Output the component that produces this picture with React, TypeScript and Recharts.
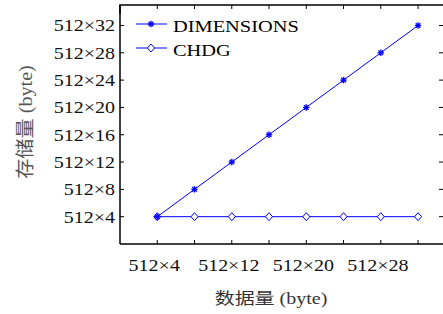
import { LineChart, Line, XAxis, YAxis, Legend, ReferenceLine } from "recharts";

const dataSizes = [4, 8, 12, 16, 20, 24, 28, 32];
const dimensionsValues = [4, 8, 12, 16, 20, 24, 28, 32];
const chdgValues = [4, 4, 4, 4, 4, 4, 4, 4];
const xTicks = [4, 8, 12, 16, 20, 24, 28, 32];
const xLabelTicks = [4, 12, 20, 28];
const yTicks = [4, 8, 12, 16, 20, 24, 28, 32];
const axisDomain = [0, 35];
const axisMax = 35;

const BLUE = "#0000ff";
const FONT = '"Liberation Serif", "Times New Roman", "Noto Sans CJK SC", serif';

const CHART_W = 446;
const PLOT_LEFT = 120;
const PLOT_TOP = 5;

const rows = dataSizes.map((x, i) => ({ x, dim: dimensionsValues[i], chdg: chdgValues[i] }));

const fmt = (v: number) => `512×${v}`;

const SText = ({ x, y, sx = 1.25, size = 16, anchor = "start", fill = "#111", children }: any) => (
  <text
    transform={`translate(${x},${y}) scale(${sx},1)`}
    textAnchor={anchor}
    fontSize={size}
    fontFamily={FONT}
    fill={fill}
  >
    {children}
  </text>
);

const BottomTick = ({ x, y, payload }: any) => (
  <g>
    <line x1={x} y1={y} x2={x} y2={y - 4} stroke="#000" strokeWidth={1} />
    {xLabelTicks.includes(payload.value) && (
      <SText x={x - 3} y={y + 27} anchor="middle">
        {fmt(payload.value)}
      </SText>
    )}
  </g>
);

const LeftTick = ({ x, y, payload }: any) => (
  <g>
    <line x1={x} y1={y} x2={x + 4} y2={y} stroke="#000" strokeWidth={1} />
    <line x1={443} y1={y} x2={439} y2={y} stroke="#000" strokeWidth={1} />
    <SText x={x - 5} y={y + 6} anchor="end">
      {fmt(payload.value)}
    </SText>
  </g>
);

const StarDot = ({ cx, cy, index }: any) => {
  const r = 3.2;
  const d = r * 0.72;
  return (
    <g key={`s${index}`} stroke={BLUE} strokeWidth={1.3}>
      <line x1={cx - r} y1={cy} x2={cx + r} y2={cy} />
      <line x1={cx} y1={cy - r} x2={cx} y2={cy + r} />
      <line x1={cx - d} y1={cy - d} x2={cx + d} y2={cy + d} />
      <line x1={cx - d} y1={cy + d} x2={cx + d} y2={cy - d} />
    </g>
  );
};

const DiamondDot = ({ cx, cy, index }: any) => (
  <polygon
    key={`d${index}`}
    points={`${cx},${cy - 4} ${cx + 3.5},${cy} ${cx},${cy + 4} ${cx - 3.5},${cy}`}
    fill="#fff"
    stroke={BLUE}
    strokeWidth={1}
  />
);

// legend plus the top frame edge with its mirrored ticks
const LegendBox = () => {
  const tx = (v: number) => PLOT_LEFT + (v / axisMax) * (CHART_W - PLOT_LEFT);
  return (
    <svg width={443} height={70} style={{ display: "block" }}>
      <line x1={PLOT_LEFT - 0.75} y1={PLOT_TOP} x2={443} y2={PLOT_TOP} stroke="#000" strokeWidth={1.5} />
      <line x1={PLOT_LEFT} y1={PLOT_TOP} x2={PLOT_LEFT} y2={14} stroke="#000" strokeWidth={1.5} />
      {xTicks.map((v) => (
        <line key={v} x1={tx(v)} y1={PLOT_TOP} x2={tx(v)} y2={PLOT_TOP + 4} stroke="#000" strokeWidth={1} />
      ))}
      <line x1={136} y1={24} x2={167} y2={24} stroke={BLUE} strokeWidth={1} />
      <StarDot cx={151} cy={24} index={0} />
      <SText x={173} y={32} size={17} sx={1.2} fill="#000">DIMENSIONS</SText>
      <line x1={136} y1={48} x2={167} y2={48} stroke={BLUE} strokeWidth={1} />
      <DiamondDot cx={151} cy={48} index={1} />
      <SText x={173} y={56} size={17} sx={1.2} fill="#000">CHDG</SText>
    </svg>
  );
};

const XTitle = ({ viewBox }: any) => (
  <SText x={viewBox.x + 151} y={viewBox.y + 60} anchor="middle" fill="#333">
    数据量 (byte)
  </SText>
);

const YTitle = () => (
  <text
    transform="translate(32,122) rotate(-90) scale(1.12,1.05)"
    textAnchor="middle"
    fontSize={18}
    fontFamily={FONT}
    fill="#555"
  >
    存储量 (byte)
  </text>
);

export default function App() {
  return (
    <div style={{ position: "fixed", left: 0, top: 0, width: 443, height: 314, overflow: "hidden", background: "#fff" }}>
      <LineChart width={CHART_W} height={314} data={rows} margin={{ top: PLOT_TOP, right: 0, bottom: 0, left: 0 }}>
        <XAxis
          dataKey="x"
          type="number"
          domain={axisDomain}
          ticks={xTicks}
          height={70}
          tickSize={0}
          tickMargin={0}
          tickLine={false}
          tick={<BottomTick />}
          axisLine={{ stroke: "#000", strokeWidth: 1.5 }}
          interval={0}
          allowDataOverflow
          label={<XTitle />}
        />
        <YAxis
          type="number"
          domain={axisDomain}
          ticks={yTicks}
          width={PLOT_LEFT}
          tickSize={0}
          tickMargin={0}
          tickLine={false}
          tick={<LeftTick />}
          axisLine={{ stroke: "#000", strokeWidth: 1.5 }}
          interval={0}
          allowDataOverflow
          label={<YTitle />}
        />
        <ReferenceLine x={axisMax} stroke="#000" strokeWidth={1} ifOverflow="visible" />
        <Legend
          layout="vertical"
          align="center"
          verticalAlign="middle"
          content={<LegendBox />}
          wrapperStyle={{ top: 0, left: 0, width: 443, height: 70 }}
        />
        <Line
          dataKey="chdg"
          name="CHDG"
          stroke={BLUE}
          strokeWidth={1}
          dot={<DiamondDot />}
          isAnimationActive={false}
        />
        <Line
          dataKey="dim"
          name="DIMENSIONS"
          stroke={BLUE}
          strokeWidth={1}
          dot={<StarDot />}
          isAnimationActive={false}
        />
      </LineChart>
    </div>
  );
}
